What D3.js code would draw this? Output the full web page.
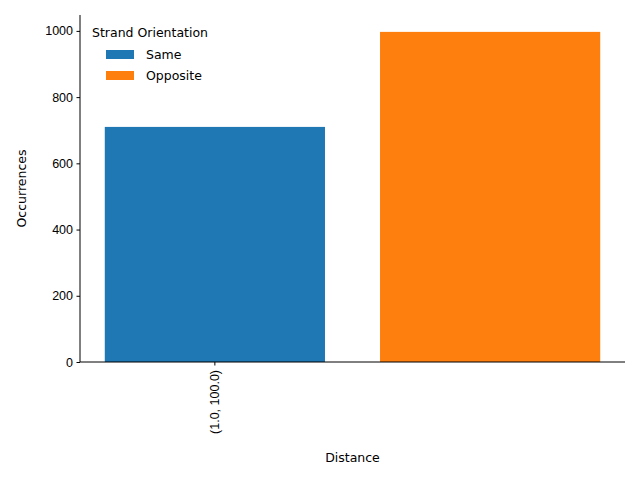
<!DOCTYPE html>
<body style="margin:0">
<svg width="640" height="480" style="font-family:'DejaVu Sans';"></svg>
<script src="https://d3js.org/d3.v7.min.js"></script>
<script>
var series = ["Same", "Opposite"],
    values = [710, 997],
    colors = ["#1f77b4", "#ff7f0e"],
    tickLabels = ["(1.0, 100.0)"],
    yTicks = [0, 200, 400, 600, 800, 1000];

var svg = d3.select("svg"),
    margin = {top: 15, right: 15, bottom: 118, left: 80},
    width = 640 - margin.left - margin.right,
    height = 480 - margin.top - margin.bottom,
    g = svg.append("g").attr("transform", "translate(" + margin.left + "," + margin.top + ")");

var x = d3.scaleBand().domain(series).range([0, width]).paddingInner(0.2).paddingOuter(0.09);
var y = d3.scaleLinear().domain([0, 1048]).range([height, 0]);

g.selectAll("rect").data(values).enter().append("rect")
    .attr("x", function(d, i) { return x(series[i]); })
    .attr("width", x.bandwidth())
    .attr("y", function(d) { return y(d); })
    .attr("height", function(d) { return height - y(d); })
    .attr("fill", function(d, i) { return colors[i]; });

var ya = g.append("g").call(d3.axisLeft(y).tickValues(yTicks).tickFormat(d3.format("d")).tickSize(3.5).tickPadding(3.5));
ya.selectAll("text").attr("font-size", 12.5).attr("fill", "#000");
ya.select(".domain").attr("d", "M0," + height + "V0");

var xa = g.append("g").attr("transform", "translate(0," + height + ")")
    .call(d3.axisBottom(x).tickValues([series[0]]).tickFormat(function(d, i) { return tickLabels[i]; }).tickSize(3.5));
xa.select(".domain").attr("d", "M0,0H" + width);
xa.selectAll("text").attr("font-size", 12.5).attr("fill", "#000")
    .attr("transform", "rotate(-90)").attr("text-anchor", "end")
    .attr("x", -8).attr("y", 0).attr("dy", "0.35em");

svg.append("text").attr("x", margin.left + width / 2).attr("y", 462)
    .attr("text-anchor", "middle").attr("font-size", 12.5).text("Distance");
svg.append("text").attr("transform", "translate(26," + (margin.top + height / 2) + ") rotate(-90)")
    .attr("text-anchor", "middle").attr("font-size", 12.5).text("Occurrences");

var lg = svg.append("g").attr("transform", "translate(92,26)");
lg.append("text").attr("x", 0).attr("y", 11).attr("font-size", 12.5).text("Strand Orientation");
series.forEach(function(s, i) {
  lg.append("rect").attr("x", 14).attr("y", 24 + i * 21).attr("width", 28).attr("height", 9).attr("fill", colors[i]);
  lg.append("text").attr("x", 54).attr("y", 33 + i * 21).attr("font-size", 12.5).text(s);
});
</script>
</body>
